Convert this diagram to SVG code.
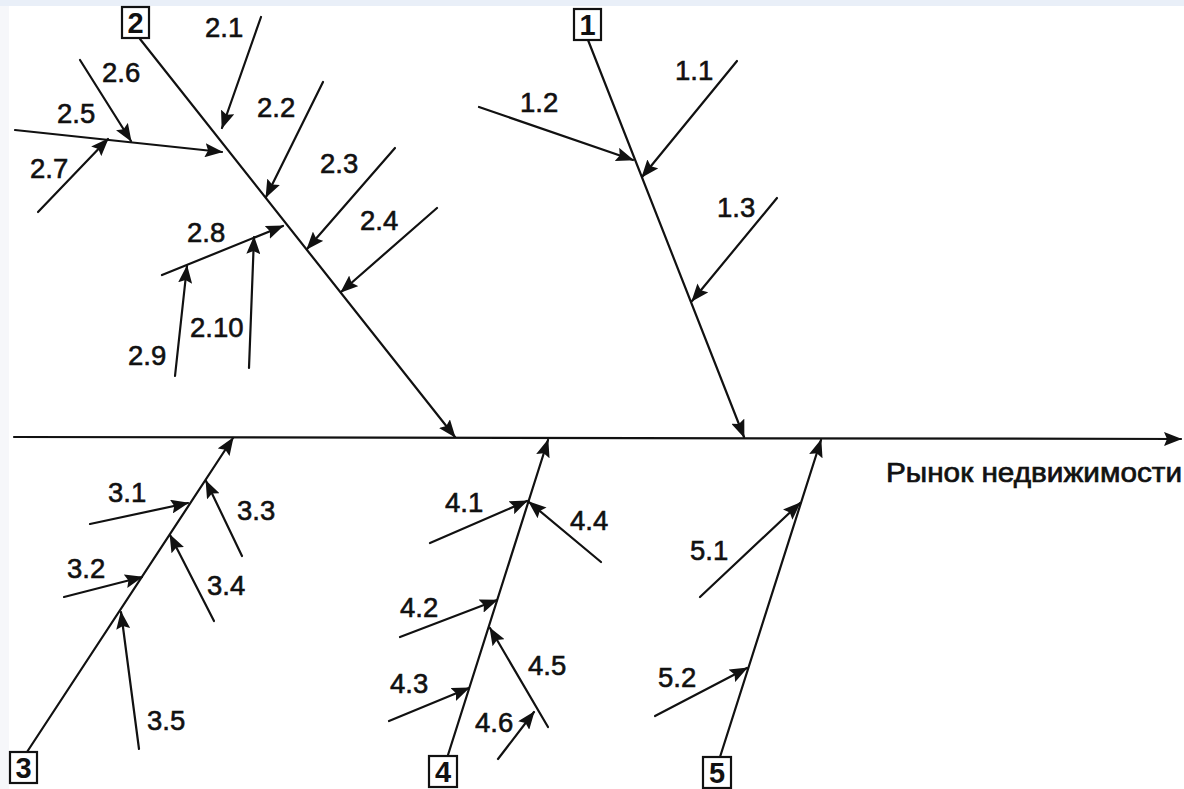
<svg xmlns="http://www.w3.org/2000/svg" width="1184" height="789" viewBox="0 0 1184 789">
<style>
.ln{stroke:#111;stroke-width:2.2;fill:none;stroke-linecap:round}
.ar{marker-end:url(#ah)}
.lb{font-family:"Liberation Sans",Arial,sans-serif;font-size:27.5px;fill:#111;stroke:#111;stroke-width:0.6}
.bx{fill:#fff;stroke:#111;stroke-width:2.2}
.bn{font-family:"Liberation Sans",Arial,sans-serif;font-size:29px;font-weight:bold;fill:#111;text-anchor:middle}
.tt{font-family:"Liberation Sans",Arial,sans-serif;font-size:28px;fill:#111;stroke:#111;stroke-width:0.7}
</style>
<defs>
<marker id="ah" viewBox="0 0 18 14" refX="17" refY="7" markerWidth="18" markerHeight="14" markerUnits="userSpaceOnUse" orient="auto">
<path d="M0,0 L18,7 L0,14 L3,7 Z" fill="#111"/>
</marker>
</defs>
<rect x="0" y="0" width="1184" height="789" fill="#fff"/>
<rect x="0" y="0" width="1184" height="6" fill="#e9eff8"/>
<rect x="0" y="6" width="9" height="783" fill="#f6f7fa"/>

<g id="connectors">
<line class="ln ar" x1="14" y1="437" x2="1181" y2="439"/>
<!-- bone 2 -->
<line class="ln ar" x1="140" y1="39" x2="455" y2="437"/>
<line class="ln ar" x1="261" y1="17" x2="222" y2="128"/>
<line class="ln ar" x1="323" y1="82" x2="266" y2="197"/>
<line class="ln ar" x1="395" y1="148" x2="307" y2="249"/>
<line class="ln ar" x1="437" y1="208" x2="341" y2="292"/>
<line class="ln ar" x1="15" y1="130" x2="222" y2="152"/>
<line class="ln ar" x1="80" y1="60" x2="131" y2="141"/>
<line class="ln ar" x1="38" y1="212" x2="108" y2="139"/>
<line class="ln ar" x1="162" y1="275" x2="283" y2="226"/>
<line class="ln ar" x1="175" y1="376" x2="187" y2="266"/>
<line class="ln ar" x1="249" y1="368" x2="254" y2="237"/>
<!-- bone 1 -->
<line class="ln ar" x1="588" y1="40" x2="744" y2="437"/>
<line class="ln ar" x1="737" y1="61" x2="642" y2="177"/>
<line class="ln ar" x1="479" y1="107" x2="633" y2="160"/>
<line class="ln ar" x1="777" y1="198" x2="692" y2="301"/>
<!-- bone 3 -->
<line class="ln ar" x1="27" y1="752" x2="233" y2="438"/>
<line class="ln ar" x1="90" y1="524" x2="188" y2="503"/>
<line class="ln ar" x1="64" y1="597" x2="142" y2="577"/>
<line class="ln ar" x1="242" y1="556" x2="206" y2="481"/>
<line class="ln ar" x1="214" y1="621" x2="170" y2="535"/>
<line class="ln ar" x1="139" y1="749" x2="121" y2="612"/>
<!-- bone 4 -->
<line class="ln ar" x1="448" y1="755" x2="548" y2="440"/>
<line class="ln ar" x1="430" y1="543" x2="527" y2="501"/>
<line class="ln ar" x1="601" y1="562" x2="529" y2="502"/>
<line class="ln ar" x1="400" y1="637" x2="497" y2="600"/>
<line class="ln ar" x1="389" y1="721" x2="469" y2="688"/>
<line class="ln ar" x1="548" y1="727" x2="490" y2="628"/>
<line class="ln ar" x1="498" y1="759" x2="534" y2="712"/>
<!-- bone 5 -->
<line class="ln ar" x1="720" y1="757" x2="821" y2="440"/>
<line class="ln ar" x1="700" y1="597" x2="800" y2="503"/>
<line class="ln ar" x1="655" y1="716" x2="747" y2="668"/>
</g>

<g id="node-1"><rect class="bx" x="574" y="9" width="27" height="31"/><text class="bn" x="587.5" y="35">1</text></g>
<g id="node-2"><rect class="bx" x="122" y="7" width="27" height="31"/><text class="bn" x="135.5" y="33">2</text></g>
<g id="node-3"><rect class="bx" x="10" y="752" width="27" height="31"/><text class="bn" x="23.5" y="778">3</text></g>
<g id="node-4"><rect class="bx" x="429" y="756" width="28" height="31"/><text class="bn" x="443" y="782">4</text></g>
<g id="node-5"><rect class="bx" x="703" y="757" width="28" height="31"/><text class="bn" x="717" y="783">5</text></g>

<g id="labels">
<text class="lb" x="205" y="37">2.1</text>
<text class="lb" x="257" y="117">2.2</text>
<text class="lb" x="320" y="173">2.3</text>
<text class="lb" x="360" y="230">2.4</text>
<text class="lb" x="57" y="123">2.5</text>
<text class="lb" x="102" y="82">2.6</text>
<text class="lb" x="30" y="178">2.7</text>
<text class="lb" x="187" y="242">2.8</text>
<text class="lb" x="128" y="365">2.9</text>
<text class="lb" x="190" y="337">2.10</text>
<text class="lb" x="675" y="80">1.1</text>
<text class="lb" x="520" y="112">1.2</text>
<text class="lb" x="717" y="217">1.3</text>
<text class="lb" x="108" y="502">3.1</text>
<text class="lb" x="67" y="578">3.2</text>
<text class="lb" x="237" y="520">3.3</text>
<text class="lb" x="207" y="595">3.4</text>
<text class="lb" x="147" y="730">3.5</text>
<text class="lb" x="445" y="512">4.1</text>
<text class="lb" x="400" y="617">4.2</text>
<text class="lb" x="390" y="693">4.3</text>
<text class="lb" x="570" y="530">4.4</text>
<text class="lb" x="528" y="675">4.5</text>
<text class="lb" x="475" y="732">4.6</text>
<text class="lb" x="690" y="560">5.1</text>
<text class="lb" x="658" y="687">5.2</text>
<text class="tt" x="886" y="482" textLength="296" lengthAdjust="spacingAndGlyphs">Рынок недвижимости</text>
</g>
</svg>
